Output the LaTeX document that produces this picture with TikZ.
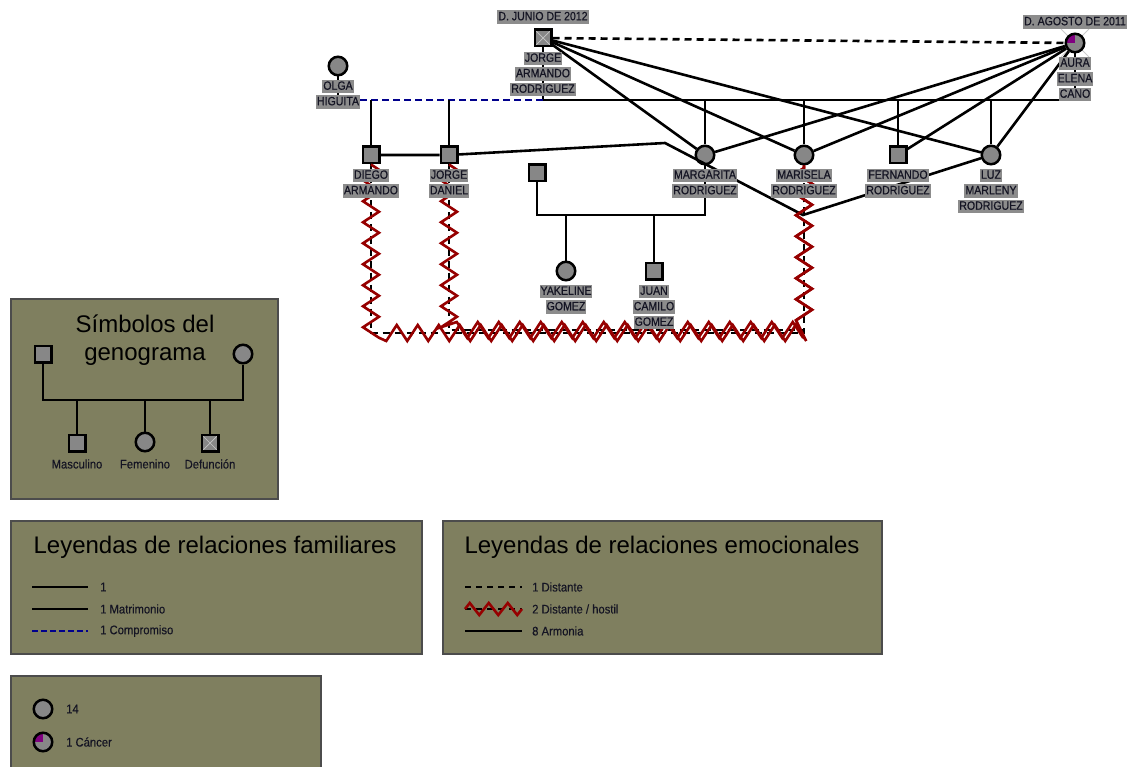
\documentclass[tikz,border=0pt]{standalone}
\usepackage{fontspec}
\setmainfont{Liberation Sans}
\newfontfamily\tagfont{Liberation Sans}[FakeStretch=0.88,FakeBold=0.6]
\newfontfamily\legfont{Liberation Sans}[FakeStretch=0.9,FakeBold=0.3]
\usetikzlibrary{decorations.pathmorphing}
\definecolor{legendbg}{RGB}{127,127,95}
\definecolor{shapegray}{RGB}{135,135,135}
\definecolor{labelgray}{RGB}{140,140,140}
\definecolor{labeltext}{RGB}{20,20,35}
\definecolor{hostilred}{RGB}{150,0,0}
\definecolor{compblue}{RGB}{0,0,140}
\definecolor{cancerpurple}{RGB}{128,0,128}

\begin{document}
\begin{tikzpicture}[x=1pt,y=-1pt]
\tikzset{
male/.style={rectangle,draw,fill=shapegray,line width=2.5pt,minimum size=16.5pt,inner sep=0pt},
female/.style={circle,draw,fill=shapegray,line width=2.5pt,minimum size=18.5pt,inner sep=0pt},
dead/.style={path picture={\draw[gray!45,line width=0.7pt] (path picture bounding box.north west) -- (path picture bounding box.south east) (path picture bounding box.north east) -- (path picture bounding box.south west);}},
cancer/.style={path picture={\fill[cancerpurple] (path picture bounding box.center) rectangle (path picture bounding box.north west);}},
tag/.style={fill=labelgray,text=labeltext,inner xsep=1pt,inner ysep=1.5pt,text height=8.5pt,text depth=2pt,font=\tagfont\fontsize{12}{12}\selectfont},
fam/.style={line width=2.6pt},
compromiso/.style={line width=2.6pt,compblue,dash pattern=on 7pt off 4pt},
distante/.style={line width=2.6pt,dash pattern=on 7pt off 5pt},
hostil/.style={line width=2.6pt,hostilred,decorate,decoration={zigzag,segment length=21pt,amplitude=8pt}},
armonia/.style={line width=2.6pt},
legendbox/.style={fill=legendbg,draw=black!70,line width=1.2pt},
title/.style={font=\fontsize{24}{28}\selectfont,align=center},
legtext/.style={anchor=west,text=labeltext,font=\legfont\fontsize{12.5}{12.5}\selectfont,inner sep=0pt}
}
\useasboundingbox (0,0) rectangle (1131,767);
\clip (0,0) rectangle (1131,767);

% deceased cross behind Aura
\draw[gray!40,line width=0.8pt] (1061,29) -- (1089,57) (1061,57) -- (1089,29);

% people
\node[female] (Olga) at (338,66) {};
\node[male,dead] (JA) at (543,38) {};
\node[female,cancer] (Aura) at (1075,43) {};
\node[male] (Diego) at (371,155) {};
\node[male] (JD) at (449,155) {};
\node[female] (Marg) at (705,155) {};
\node[female] (Mari) at (804,155) {};
\node[male] (Fer) at (898,155) {};
\node[female] (Luz) at (991,155) {};
\node[male] (Esposo) at (537,173) {};
\node[female] (Yak) at (566,271) {};
\node[male] (Juan) at (654,271) {};

% family lines
\coordinate (olgaJ) at (338,100);
\coordinate (jaJ) at (543,100);
\coordinate (auraJ) at (1075,100);
\coordinate (mL) at (537,215);
\coordinate (mR) at (705,215);
\draw[fam] (Olga) -- (olgaJ);
\draw[fam] (JA) -- (jaJ);
\draw[fam] (Aura) -- (auraJ);
\draw[compromiso] (olgaJ) -- (jaJ);
\draw[fam] (jaJ) -- (auraJ);
\foreach \c in {Diego,JD,Marg,Mari,Fer,Luz}
  \draw[fam] (\c |- jaJ) -- (\c);
\draw[fam] (Esposo) -- (mL) -- (mR) -- (Marg);
\foreach \c in {Yak,Juan}
  \draw[fam] (\c |- mL) -- (\c);

% emotional lines
\coordinate (armA) at (665,143);
\coordinate (armB) at (803,215);
\coordinate (hosA) at (600,333);
\coordinate (hosB) at (600,330);
\draw[distante] (JA) -- (Aura);
\path[armonia]
 (JA) edge (Marg)
 (JA) edge (Mari)
 (JA) edge (Luz)

 (Aura) edge (Marg)
 (Aura) edge (Mari)
 (Aura) edge (Fer)
 (Aura) edge (Luz)
;
\draw[armonia] (Diego) -- (JD) -- (armA) -- (armB) -- (Luz);
\draw[distante] (Diego) |- (hosA) -| (Mari);
\draw[distante] (JD) |- (hosB) -| (Mari);
\draw[hostil] (Diego) |- (hosA) -| (Mari);
\draw[hostil] (JD) |- (hosB) -| (Mari);

% name tags
\foreach \n/\ws in {Olga/{OLGA,HIGUITA},JA/{JORGE,ARMANDO,RODRIGUEZ},Aura/{AURA,ELENA,CANO},
  Diego/{DIEGO,ARMANDO},JD/{JORGE,DANIEL},Marg/{MARGARITA,RODRIGUEZ},Mari/{MARISELA,RODRIGUEZ},
  Fer/{FERNANDO,RODRIGUEZ},Luz/{LUZ,MARLENY,RODRIGUEZ},Yak/{YAKELINE,GOMEZ},Juan/{JUAN,CAMILO,GOMEZ}}
  \foreach \w [count=\i] in \ws
    \node[tag] (\n-\i) at ([yshift={-5pt-15.5pt*\i}]\n.center) {\w};
\node[tag] (JAd) at ([yshift=21pt]JA.center) {D. JUNIO DE 2012};
\node[tag] (Aurad) at ([yshift=21pt]Aura.center) {D. AGOSTO DE 2011};

% legend: symbols
\draw[legendbox] (11,299) rectangle (278,499);
\node[title] (symT) at (145,340) {Símbolos del\\genograma};
\node[male] (sM) at (43,354) {};
\node[female] (sF) at (243,354) {};
\coordinate (sL) at (43,400);
\coordinate (sR) at (243,400);
\node[male] (cM) at (77,443) {};
\node[female] (cF) at (145,442) {};
\node[male,dead] (cD) at (210,443) {};
\draw[fam] (sM) -- (sL) -- (sR) -- (sF);
\foreach \c in {cM,cF,cD}
  \draw[fam] (\c |- sL) -- (\c);
\node[legtext,anchor=center] (cMt) at (77,464) {Masculino};
\node[legtext,anchor=center] (cFt) at (145,464) {Femenino};
\node[legtext,anchor=center] (cDt) at (210,464) {Defunción};

% legend: family relations
\draw[legendbox] (11,521) rectangle (422,654);
\node[title] (famT) at (215,547) {Leyendas de relaciones familiares};
\node[legtext] (lf1) at (100,587) {1};
\node[legtext] (lf2) at (100,609) {1 Matrimonio};
\node[legtext] (lf3) at (100,631) {1 Compromiso};
\draw[fam] ([xshift=-68pt]lf1.west) -- ([xshift=-12pt]lf1.west);
\draw[fam] ([xshift=-68pt]lf2.west) -- ([xshift=-12pt]lf2.west);
\draw[compromiso,dash pattern=on 6pt off 3pt] ([xshift=-68pt]lf3.west) -- ([xshift=-12pt]lf3.west);

% legend: emotional relations
\draw[legendbox] (443,521) rectangle (882,654);
\node[title] (emoT) at (662,547) {Leyendas de relaciones emocionales};
\node[legtext] (le1) at (532,587) {1 Distante};
\node[legtext] (le2) at (532,609) {2 Distante / hostil};
\node[legtext] (le3) at (532,631) {8 Armonia};
\draw[distante,dash pattern=on 6pt off 5pt] ([xshift=-67pt]le1.west) -- ([xshift=-10pt]le1.west);
\draw[distante,dash pattern=on 6pt off 5pt] ([xshift=-67pt]le2.west) -- ([xshift=-10pt]le2.west);
\draw[hostil,decoration={segment length=19pt,amplitude=6pt}] ([xshift=-67pt]le2.west) -- ([xshift=-10pt]le2.west);
\draw[armonia] ([xshift=-67pt]le3.west) -- ([xshift=-10pt]le3.west);

% legend: conditions
\draw[legendbox] (11,676) rectangle (321,790);
\node[female] (kF) at (43,709) {};
\node[female,cancer] (kC) at (43,742) {};
\node[legtext] (kFt) at (66,709) {14};
\node[legtext] (kCt) at (66,742) {1 Cáncer};
\end{tikzpicture}
\end{document}
